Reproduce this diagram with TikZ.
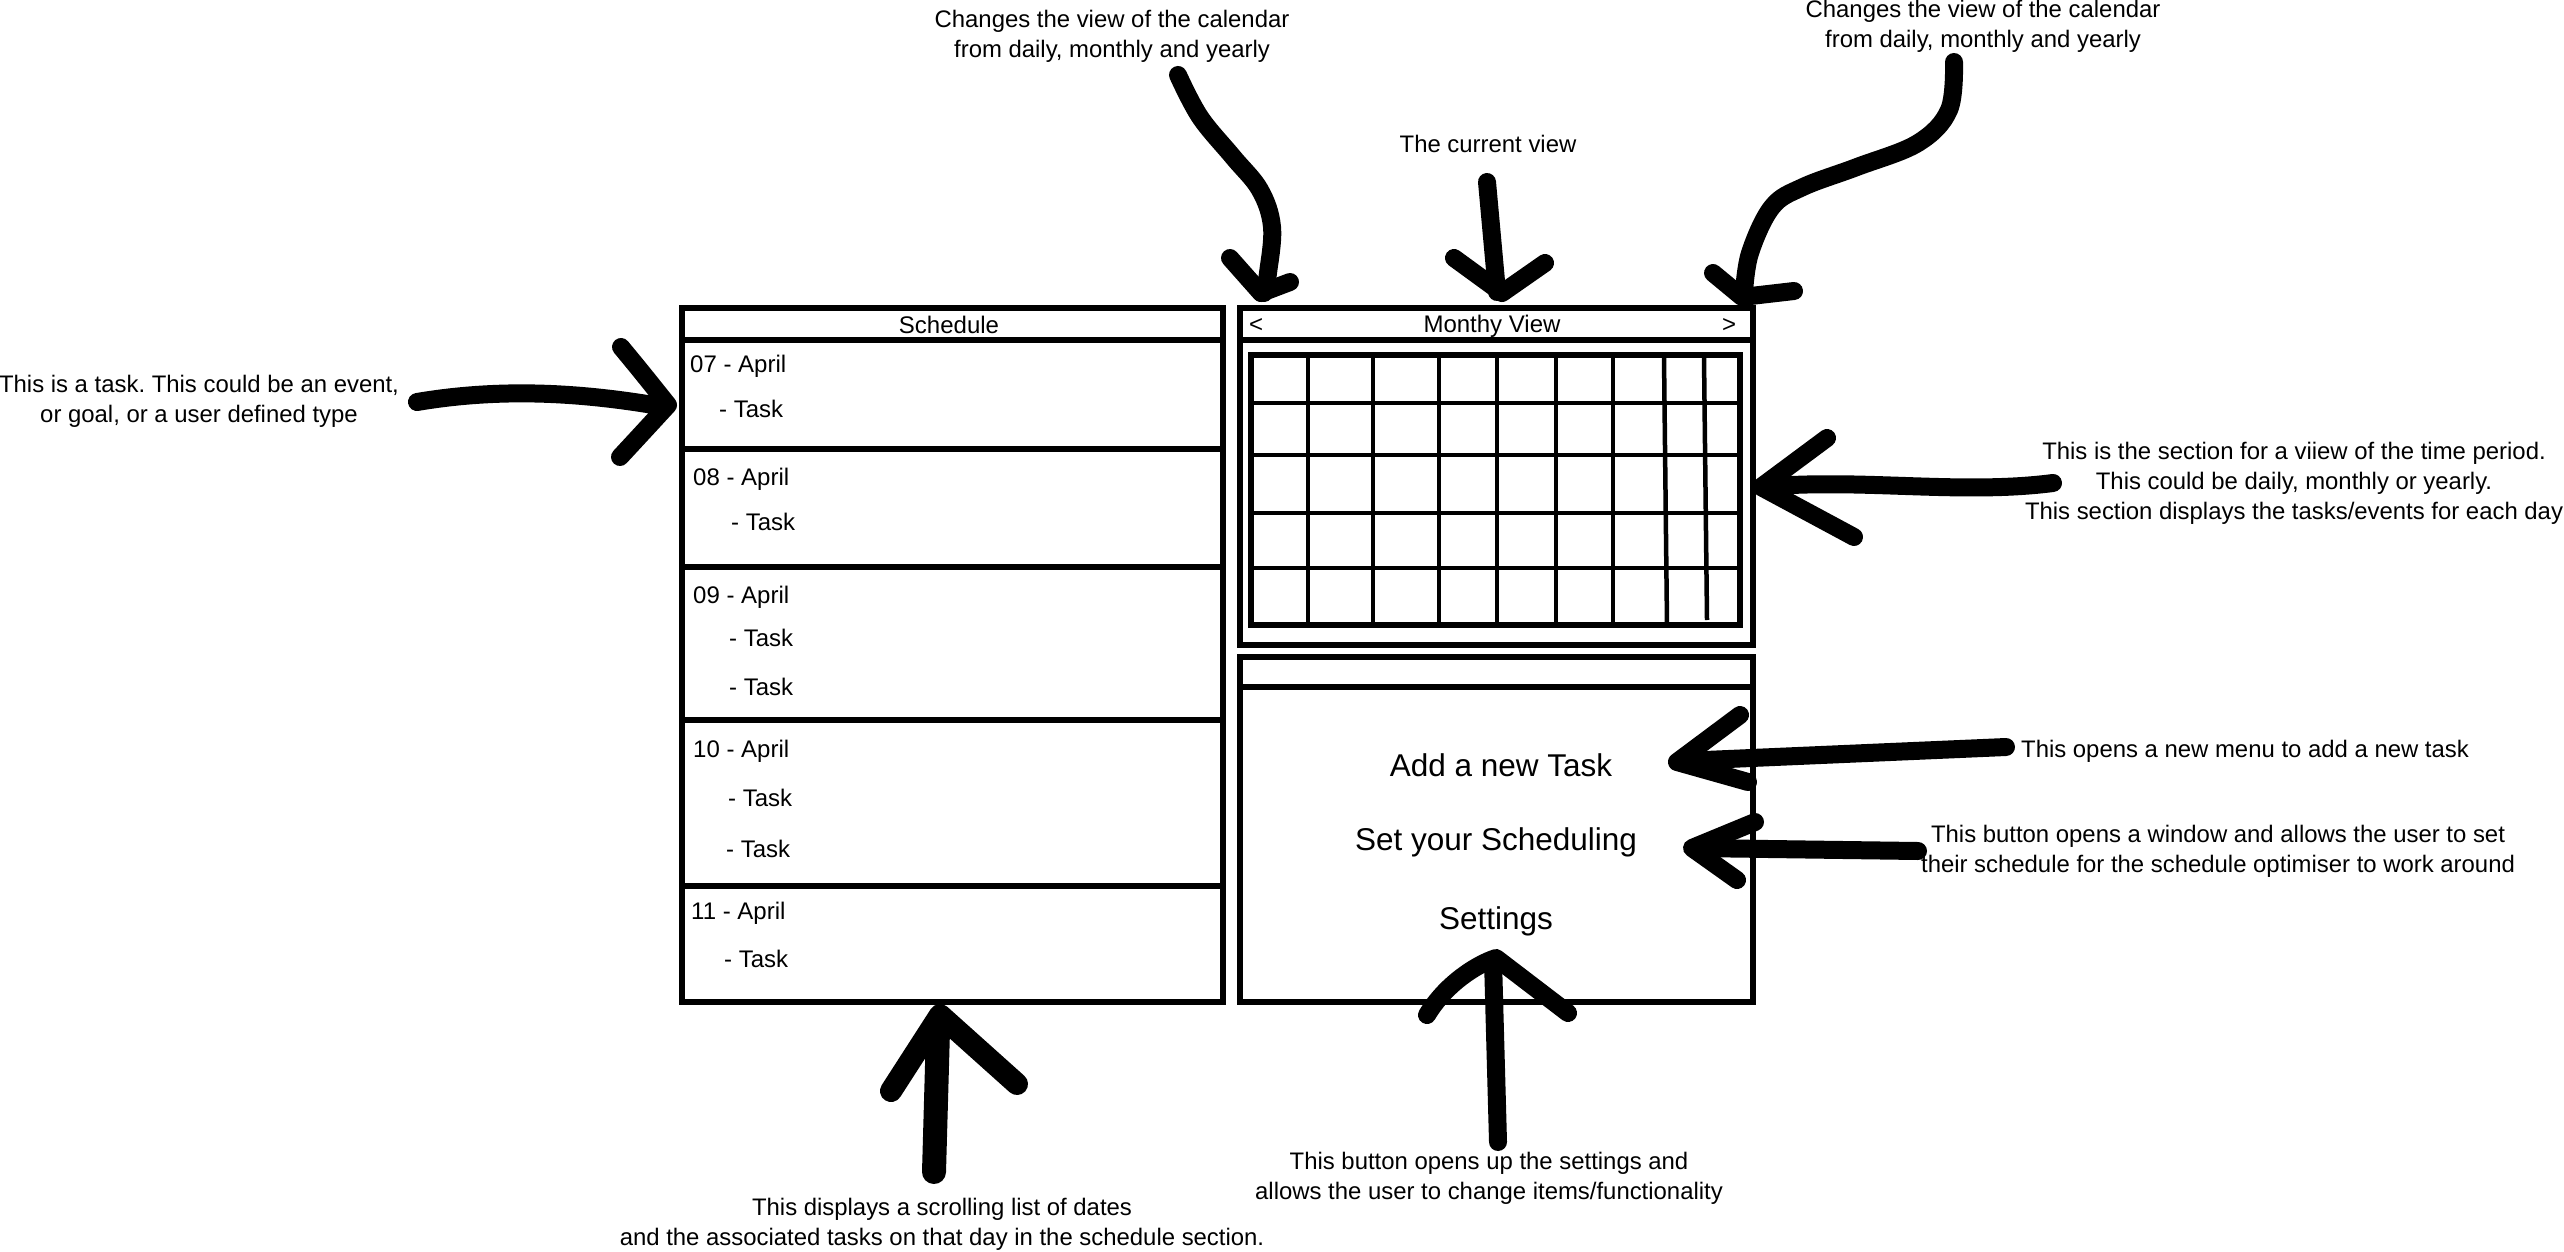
\documentclass[tikz,border=0pt]{standalone}
\usepackage{fontspec}
\setmainfont{Liberation Sans}
\frenchspacing
\begin{document}
\begin{tikzpicture}[x=1pt,y=-1pt,
  frame/.style={line width=6.5pt, line join=miter},
  gridline/.style={line width=4.5pt},
  hand/.style={line width=18pt, line cap=round, line join=round},
  note/.style={font=\fontsize{23.9}{30}\selectfont, align=center, inner sep=0pt, anchor=north},
  entry/.style={font=\fontsize{24}{29}\selectfont, inner sep=0pt, anchor=base west},
  menu/.style={font=\fontsize{31.5}{36}\selectfont, inner sep=0pt, anchor=base},
  head/.style={font=\fontsize{24}{29}\selectfont, inner sep=0pt, anchor=base}]
\useasboundingbox (0,0) rectangle (2564,1252);

% ---------- Schedule panel ----------
\draw[frame] (682,308) rectangle (1223,1002);
\foreach \yy in {340,449,567,720,886} \draw[frame] (682,\yy) -- (1223,\yy);
\node[head] (sch) at (949,333) {Schedule};
\node[entry] (d7) at (690,372) {07 - April};
\node[entry] (t7) at (719,417) {- Task};
\node[entry] (d8) at (693,485) {08 - April};
\node[entry] (t8) at (731,530) {- Task};
\node[entry] (d9) at (693,603) {09 - April};
\node[entry] (t9a) at (729,646) {- Task};
\node[entry] (t9b) at (729,695) {- Task};
\node[entry] (d10) at (693,757) {10 - April};
\node[entry] (t10a) at (728,806) {- Task};
\node[entry] (t10b) at (726,857) {- Task};
\node[entry] (d11) at (691,919) {11 - April};
\node[entry] (t11) at (724,967) {- Task};

% ---------- Calendar panel ----------
\draw[frame] (1240,308) rectangle (1753,645);
\draw[frame] (1240,340) -- (1753,340);
\node[head] (mv) at (1492,332) {Monthy View};
\node[head] (lt) at (1256,332) {<};
\node[head] (gt) at (1729,332) {>};
\draw[frame] (1251,355) rectangle (1740,625);
\foreach \yy in {403,455,513,568} \draw[gridline] (1251,\yy) -- (1740,\yy);
\foreach \xx in {1308,1373,1439,1497,1556,1613} \draw[gridline] (\xx,355) -- (\xx,625);
\draw[gridline] (1664,358) -- (1667,625);
\draw[gridline] (1704,358) -- (1707,620);

% ---------- Menu panel ----------
\draw[frame] (1240,657) rectangle (1753,1002);
\draw[frame] (1240,687) -- (1753,687);
\node[menu] (add) at (1501,776) {Add a new Task};
\node[menu] (set) at (1496,850) {Set your Scheduling};
\node[menu] (stg) at (1496,929) {Settings};

% ---------- Annotations ----------
\node[note] (n1) at (1112,10) {Changes the view of the calendar\\from daily, monthly and yearly};
\node[note] (n2) at (1983,0) {Changes the view of the calendar\\from daily, monthly and yearly};
\node[note] (n3) at (1488,135) {The current view};
\node[note] (n4) at (199,375) {This is a task. This could be an event,\\or goal, or a user defined type};
\node[note] (n5) at (2294,442) {This is the section for a viiew of the time period.\\This could be daily, monthly or yearly.\\This section displays the tasks/events for each day};
\node[note] (n6) at (2245,740) {This opens a new menu to add a new task};
\node[note] (n7) at (2218,825) {This button opens a window and allows the user to set\\their schedule for the schedule optimiser to work around};
\node[note] (n8) at (1489,1152) {This button opens up the settings and\\allows the user to change items/functionality};
\node[note] (n9) at (942,1198) {This displays a scrolling list of dates\\and the associated tasks on that day in the schedule section.};

% ---------- Hand-drawn arrows ----------
% task arrow
\draw[hand] (417,402) .. controls (500,388) and (580,392) .. (665,407);
\draw[hand] (621,347) .. controls (640,370) .. (668,405) .. controls (645,430) .. (620,457);
% top-left curved arrow
\draw[hand] plot[smooth, tension=0.6] coordinates {(1178,75) (1200,117) (1233,157) (1260,190) (1272,227) (1268,273) (1264,293)};
\draw[hand] (1230,258) -- (1261,293) -- (1290,282);
% current view arrow
\draw[hand] (1487,182) -- (1497,292);
\draw[hand] (1454,258) -- (1502,293) -- (1545,263);
% top-right curved arrow
\draw[hand] plot[smooth, tension=0.6] coordinates {(1954,62) (1949,110) (1918,143) (1857,167) (1803,187) (1772,207) (1750,253) (1744,293)};
\draw[hand] (1713,273) -- (1742,297) -- (1794,291);
% calendar section arrow
\draw[hand] (2053,483) .. controls (1960,495) and (1860,478) .. (1762,487);
\draw[hand] (1827,438) -- (1761,487) -- (1854,537);
% add task arrow
\draw[hand] (2006,747) -- (1682,761);
\draw[hand] (1740,715) -- (1677,762) -- (1748,782);
% scheduling arrow
\draw[hand] (1918,851) -- (1694,848);
\draw[hand] (1755,822) -- (1692,848) -- (1737,880);
% schedule list arrow
\draw[hand, line width=24pt] (934,1172) -- (938,1030);
\draw[hand, line width=22pt] (891,1091) -- (940,1015) -- (1017,1084);
% settings arrow
\draw[hand] (1498,1142) -- (1493,960);
\draw[hand] (1427,1015) .. controls (1445,985) and (1475,965) .. (1496,958) -- (1568,1013);
\end{tikzpicture}
\end{document}
